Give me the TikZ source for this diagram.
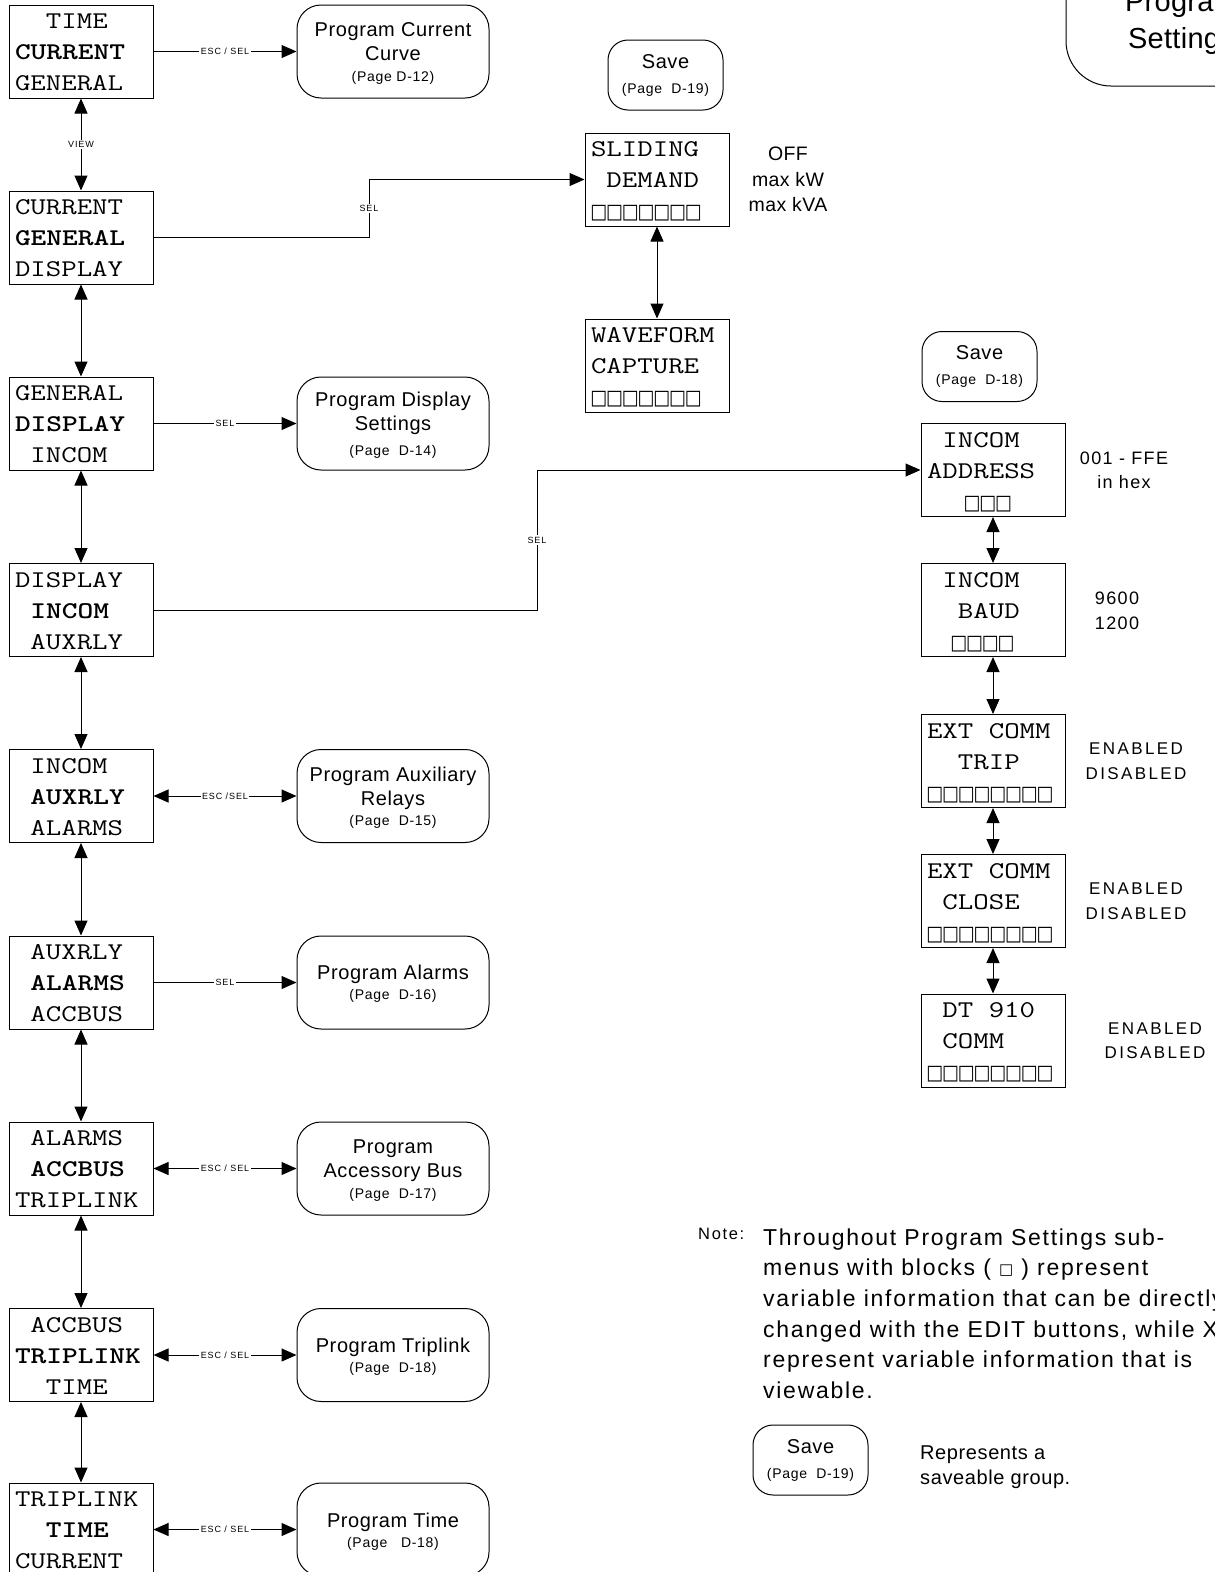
\documentclass[tikz,border=0pt]{standalone}
\usepackage{fontspec}
\usepackage{graphicx}
\usetikzlibrary{arrows.meta}
\newfontfamily\sfA{Liberation Sans}[LetterSpace=3]
\newfontfamily\sfB{Liberation Sans}[LetterSpace=5]
\newfontfamily\sfC{Liberation Sans}[LetterSpace=10]
\newfontfamily\sfD{Liberation Sans}[LetterSpace=7.5]
\newfontfamily\sfE{Liberation Sans}[LetterSpace=14]
\newfontfamily\sfF{Liberation Sans}[LetterSpace=2]
\newfontfamily\sfG{Liberation Sans}[LetterSpace=1]
\newfontfamily\sqfont{DejaVu Sans}
\newcommand\ic{\hphantom{M}}
\newcommand\sq{\makebox[0.525em][c]{\scalebox{0.7}[1]{\sqfont\fontsize{20.5}{20.5}\selectfont □}}}
\newcommand\mono[1]{\noindent\raisebox{-2pt}[\height][\depth]{\scalebox{1.25}[1]{\fontsize{24}{31}\selectfont\ttfamily\begin{tabular}{@{}l@{}}#1\end{tabular}}}}
\newcommand\pg[1]{{\sfB\fontsize{14}{20}\selectfont #1}}
\newcommand\st{\rule{0pt}{17.5pt}}
\tikzset{
  >={Triangle[length=15pt,width=13pt]},
  menubox/.style={draw, line width=1pt, rectangle, minimum width=144pt, minimum height=93pt, inner sep=0pt, text width=132pt, align=left},
  progbox/.style={draw, line width=1pt, rounded corners=24pt, minimum width=192pt, minimum height=93pt, inner sep=0pt, align=center, font=\sfA\fontsize{20}{24}\selectfont},
  savebox/.style={draw, line width=1pt, rounded corners=20pt, minimum width=115pt, minimum height=70pt, inner sep=0pt, align=center, font=\sfA\fontsize{20}{25}\selectfont},
  conn/.style={line width=1pt},
  lbl/.style={fill=white, inner sep=1.5pt, font=\sfC\fontsize{9}{10}\selectfont},
  vals/.style={align=center, inner sep=0pt},
}
\begin{document}
\begin{tikzpicture}[x=1pt, y=-1pt]
\useasboundingbox (0,0) rectangle (1215,1572);
\clip (0,0) rectangle (1215,1572);

% left column menus
\node[menubox] (m1) at (81,51.5)   {\mono{\ic\ic TIME\\\textbf{CURRENT}\\GENERAL}};
\node[menubox] (m2) at (81,237.5)  {\mono{CURRENT\\\textbf{GENERAL}\\DISPLAY}};
\node[menubox] (m3) at (81,423.5)  {\mono{GENERAL\\\textbf{DISPLAY}\\\ic INCOM}};
\node[menubox] (m4) at (81,610)    {\mono{DISPLAY\\\ic\textbf{INCOM}\\\ic AUXRLY}};
\node[menubox] (m5) at (81,796)    {\mono{\ic INCOM\\\ic\textbf{AUXRLY}\\\ic ALARMS}};
\node[menubox] (m6) at (81,982.5)  {\mono{\ic AUXRLY\\\ic\textbf{ALARMS}\\\ic ACCBUS}};
\node[menubox] (m7) at (81,1168.5) {\mono{\ic ALARMS\\\ic\textbf{ACCBUS}\\TRIPLINK}};
\node[menubox] (m8) at (81,1355)   {\mono{\ic ACCBUS\\\textbf{TRIPLINK}\\\ic\ic TIME}};
\node[menubox] (m9) at (81,1529.5) {\mono{TRIPLINK\\\ic\ic\textbf{TIME}\\CURRENT}};

% program boxes
\node[progbox] (p1) at (393,51.5)   {\st Program Current\\Curve\\[-3pt]\pg{(Page D-12)}};
\node[progbox] (p2) at (393,423.5)  {\st Program Display\\Settings\\[1pt]\pg{(Page~~D-14)}};
\node[progbox] (p3) at (393,796)    {\st Program Auxiliary\\Relays\\[-4pt]\pg{(Page~~D-15)}};
\node[progbox] (p4) at (393,982.5)  {\st Program Alarms\\[-4pt]\pg{(Page~~D-16)}};
\node[progbox] (p5) at (393,1168.5) {\st Program\\Accessory Bus\\[-3pt]\pg{(Page~~D-17)}};
\node[progbox] (p6) at (393,1355)   {\st Program Triplink\\[-4pt]\pg{(Page~~D-18)}};
\node[progbox] (p7) at (393,1529.5) {\rule{0pt}{19pt}Program Time\\[-4pt]\pg{(Page~~~D-18)}};

% middle column
\node[menubox] (sd) at (657,179.5) {\mono{SLIDING\\\ic DEMAND\\\sq\sq\sq\sq\sq\sq\sq}};
\node[menubox] (wf) at (657,365.5) {\mono{WAVEFORM\\CAPTURE\\\sq\sq\sq\sq\sq\sq\sq}};
\node[savebox] (s1) at (665.5,75) {Save\\[0pt]\pg{(Page~~D-19)}};
\node[vals, font=\sfF\fontsize{19.5}{25.5}\selectfont] (v1) at (788,179.5) {OFF\\max kW\\max kVA};

% right column
\node[savebox] (s2) at (979.5,366.5) {Save\\[0pt]\pg{(Page~~D-18)}};
\node[menubox] (ia) at (993,470)    {\mono{\ic INCOM\\ADDRESS\\\hspace*{1.24em}\sq\sq\sq}};
\node[menubox] (ib) at (993,610)    {\mono{\ic INCOM\\\ic\ic BAUD\\\hspace*{0.8em}\sq\sq\sq\sq}};
\node[menubox] (ic) at (993,761)    {\mono{EXT\ic COMM\\\ic\ic TRIP\\\sq\sq\sq\sq\sq\sq\sq\sq}};
\node[menubox] (id) at (993,901)    {\mono{EXT\ic COMM\\\ic CLOSE\\\sq\sq\sq\sq\sq\sq\sq\sq}};
\node[menubox] (ie) at (993,1040.5) {\mono{\ic DT\ic 910\\\ic COMM\\\sq\sq\sq\sq\sq\sq\sq\sq}};
\node[vals, font=\sfD\fontsize{18}{24}\selectfont] (v2) at (1124,470) {001 - FFE\\in hex};
\node[vals, font=\sfD\fontsize{18}{25}\selectfont] (v3) at (1117,610.5) {9600\\1200};
\node[vals, font=\sfE\fontsize{17}{25}\selectfont] (v4) at (1136,761.5) {ENABLED\\DISABLED};
\node[vals, font=\sfE\fontsize{17}{25}\selectfont] (v5) at (1136,901.5) {ENABLED\\DISABLED};
\node[vals, font=\sfE\fontsize{17}{24}\selectfont] (v6) at (1155,1041) {ENABLED\\DISABLED};

% program settings (cut off)
\node[draw, line width=1pt, rounded corners=45pt, minimum width=231pt, minimum height=132pt, inner sep=0pt, align=center, font=\sfG\fontsize{29}{37}\selectfont] (ps) at (1181.5,20) {\rule{0pt}{26pt}Program\\Settings};

% note
\node[anchor=base west, inner sep=0pt, font=\sfC\fontsize{16.5}{20}\selectfont] (nt) at (698,1239) {Note:};
\node[anchor=north west, inner sep=0pt, align=left, font=\sfD\fontsize{23}{30.6}\selectfont] (ntx) at (763,1228.5) {Throughout Program Settings sub-\\menus with blocks ( {\sqfont\fontsize{15}{15}\selectfont\raisebox{1pt}{□}} ) represent\\variable information that can be directly\\changed with the EDIT buttons, while X\\represent variable information that is\\viewable.};
\node[savebox] (s3) at (810.5,1460) {Save\\[0pt]\pg{(Page~~D-19)}};
\node[anchor=north west, inner sep=0pt, align=left, font=\sfA\fontsize{20}{25}\selectfont] (rp) at (920,1445.5) {Represents a\\saveable group.};

% connectors
\coordinate (k1) at (369,0);
\coordinate (k2) at (537,0);
\draw[conn,->] (m1.east) -- node[lbl]{ESC / SEL} (p1.west);
\draw[conn,->] (m2.east) -| node[lbl,pos=0.75]{SEL} (k1 |- sd.west) -- (sd.west);
\draw[conn,->] (m3.east) -- node[lbl]{SEL} (p2.west);
\draw[conn,->] (m4.east) -| node[lbl,pos=0.75]{SEL} (k2 |- ia.west) -- (ia.west);
\draw[conn,<->] (m5.east) -- node[lbl]{ESC /SEL} (p3.west);
\draw[conn,->] (m6.east) -- node[lbl]{SEL} (p4.west);
\draw[conn,<->] (m7.east) -- node[lbl]{ESC / SEL} (p5.west);
\draw[conn,<->] (m8.east) -- node[lbl]{ESC / SEL} (p6.west);
\draw[conn,<->] (m9.east) -- node[lbl]{ESC / SEL} (p7.west);

\draw[conn,<->] (m1.south) -- node[lbl]{VIEW} (m2.north);
\draw[conn,<->] (m2.south) -- (m3.north);
\draw[conn,<->] (m3.south) -- (m4.north);
\draw[conn,<->] (m4.south) -- (m5.north);
\draw[conn,<->] (m5.south) -- (m6.north);
\draw[conn,<->] (m6.south) -- (m7.north);
\draw[conn,<->] (m7.south) -- (m8.north);
\draw[conn,<->] (m8.south) -- (m9.north);

\draw[conn,<->] (sd.south) -- (wf.north);
\draw[conn,<->] (ia.south) -- (ib.north);
\draw[conn,<->] (ib.south) -- (ic.north);
\draw[conn,<->] (ic.south) -- (id.north);
\draw[conn,<->] (id.south) -- (ie.north);
\end{tikzpicture}
\end{document}
